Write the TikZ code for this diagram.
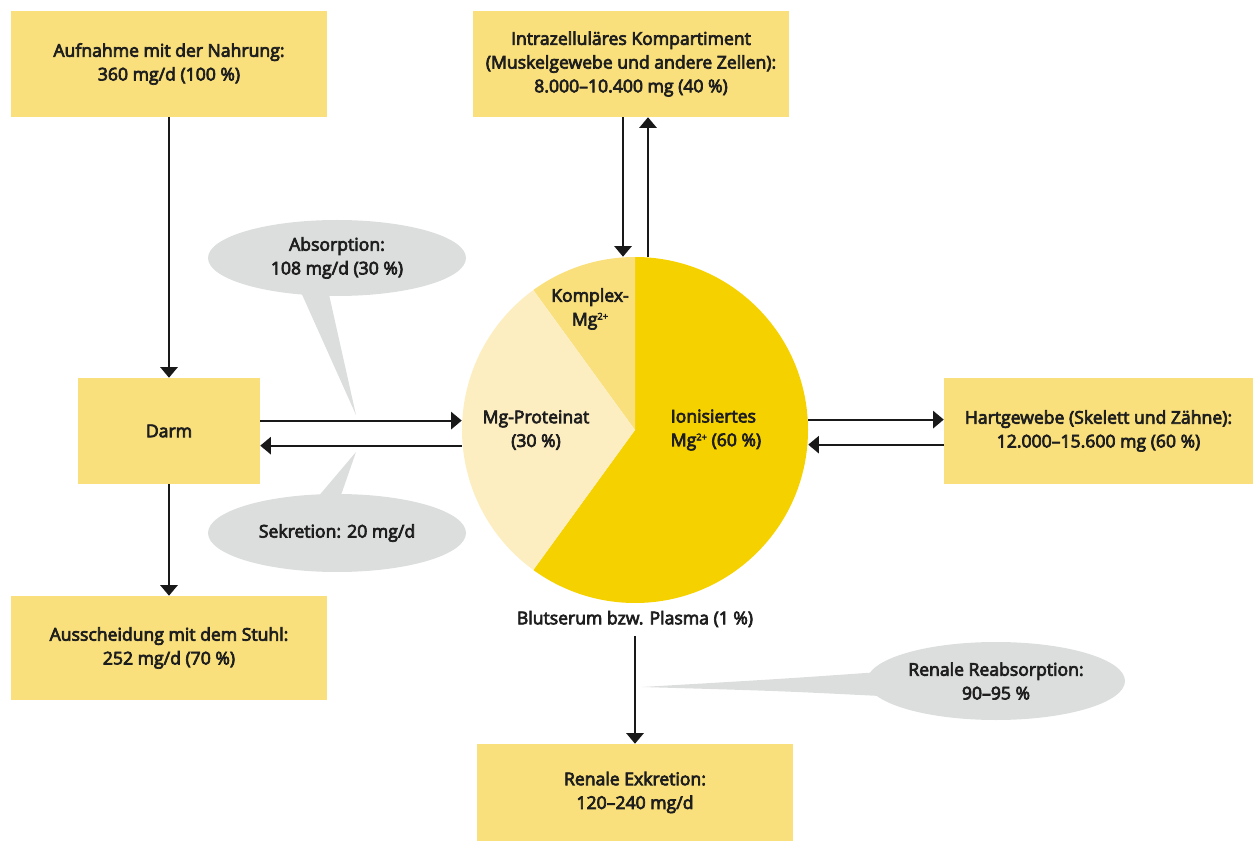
\documentclass[tikz,border=0pt]{standalone}
\usepackage{fontspec}
\setmainfont{Open Sans}[UprightFeatures={FakeBold=4}]
\usetikzlibrary{arrows.meta,shapes.geometric,calc}
\definecolor{boxc}{RGB}{249,224,125}
\definecolor{ionc}{RGB}{246,209,0}
\definecolor{protc}{RGB}{253,238,194}
\definecolor{grayc}{RGB}{220,221,221}
\definecolor{txtc}{RGB}{30,30,30}
\definecolor{linec}{RGB}{25,25,25}
\newcommand{\supr}[1]{\raisebox{0.62ex}{\fontsize{7}{7}\selectfont #1}}
\tikzset{
  txt/.style={font=\fontsize{13.2}{17.8}\selectfont, text=txtc, align=center},
  box/.style={txt, fill=boxc, inner sep=0pt, rectangle},
  bubble/.style={txt, fill=grayc, ellipse, inner sep=0pt},
  arr/.style={draw=linec, line width=1.5pt, -{Triangle[width=13pt,length=8pt]}},
}
\begin{document}
\begin{tikzpicture}[x=0.75pt,y=-0.75pt]
\useasboundingbox (0,0) rectangle (1253,841);
% boxes
\node[box, minimum width=237pt, minimum height=79.5pt] (aufn) at (169,64) {Aufnahme mit der Nahrung:\\360 mg/d (100 \%)};
\node[box, minimum width=237pt, minimum height=79.5pt] (intra) at (631,64) {Intrazelluläres Kompartiment\\(Muskelgewebe und andere Zellen):\\8.000–10.400 mg (40 \%)};
\node[box, minimum width=136.5pt, minimum height=79.5pt] (darm) at (169,431) {Darm};
\node[box, minimum width=237pt, minimum height=78pt] (stuhl) at (169,648) {Ausscheidung mit dem Stuhl:\\252 mg/d (70 \%)};
\node[box, minimum width=231.75pt, minimum height=79.5pt] (hart) at (1098.5,431) {Hartgewebe (Skelett und Zähne):\\12.000–15.600 mg (60 \%)};
\node[box, minimum width=237pt, minimum height=72.75pt] (renal) at (635,792.5) {Renale Exkretion:\\120–240 mg/d};
% pie
\node[circle, minimum size=259.5pt, inner sep=0pt] (pie) at (635,430) {};
\fill[ionc] (pie.center) -- ++(90:129.75pt) arc[start angle=90, end angle=-126, radius=129.75pt] -- cycle;
\fill[boxc] (pie.center) -- ++(90:129.75pt) arc[start angle=90, end angle=126, radius=129.75pt] -- cycle;
\fill[protc] (pie.center) -- ++(126:129.75pt) arc[start angle=126, end angle=234, radius=129.75pt] -- cycle;
\node[txt] (komplex) at (590,309) {Komplex-\\Mg\supr{2+}};
\node[txt] (prot) at (536,430) {Mg-Proteinat\\(30 \%)};
\node[txt, align=left] (ion) at (716,430) {Ionisiertes\\Mg\supr{2+} (60 \%)};
\node[txt] (plasma) at (635,619) {Blutserum bzw. Plasma (1 \%)};
% bubbles
\fill[grayc] (300,290) -- (356,415) -- (328,290) -- cycle;
\node[bubble, minimum width=193.5pt, minimum height=57pt] (absorp) at (337,258) {Absorption:\\108 mg/d (30 \%)};
\fill[grayc] (317,498) -- (356,452) -- (340,498) -- cycle;
\node[bubble, minimum width=193.5pt, minimum height=58.5pt] (sekr) at (337,533) {Sekretion: 20 mg/d};
\fill[grayc] (880,672) .. controls (780,679) .. (642,687) .. controls (780,691) .. (880,696) -- cycle;
\node[bubble, minimum width=193.5pt, minimum height=58.5pt] (reab) at (996,681) {Renale Reabsorption:\\90–95 \%};
% arrows
\draw[arr] (aufn.south) -- (darm.north);
\draw[arr] (darm.south) -- (stuhl.north);
\draw[arr] ([yshift=7.8pt]darm.east) -- ([yshift=7.8pt]darm.east -| pie.west);
\draw[arr] ([yshift=-11pt]darm.east -| pie.west) -- ([yshift=-11pt]darm.east);
\draw[arr] ([yshift=7.8pt]pie.east) -- ([yshift=7.8pt]pie.east -| hart.west);
\draw[arr] ([yshift=-11pt]pie.east -| hart.west) -- ([yshift=-11pt]pie.east);
\draw[arr] ([xshift=-6pt]intra.south) -- ([xshift=-6pt]intra.south |- pie.north);
\draw[arr] ([xshift=12.75pt]intra.south |- pie.north) -- ([xshift=12.75pt]intra.south);
\draw[arr] ([yshift=-3pt]plasma.south) -- (plasma.south |- renal.north);
\end{tikzpicture}
\end{document}
